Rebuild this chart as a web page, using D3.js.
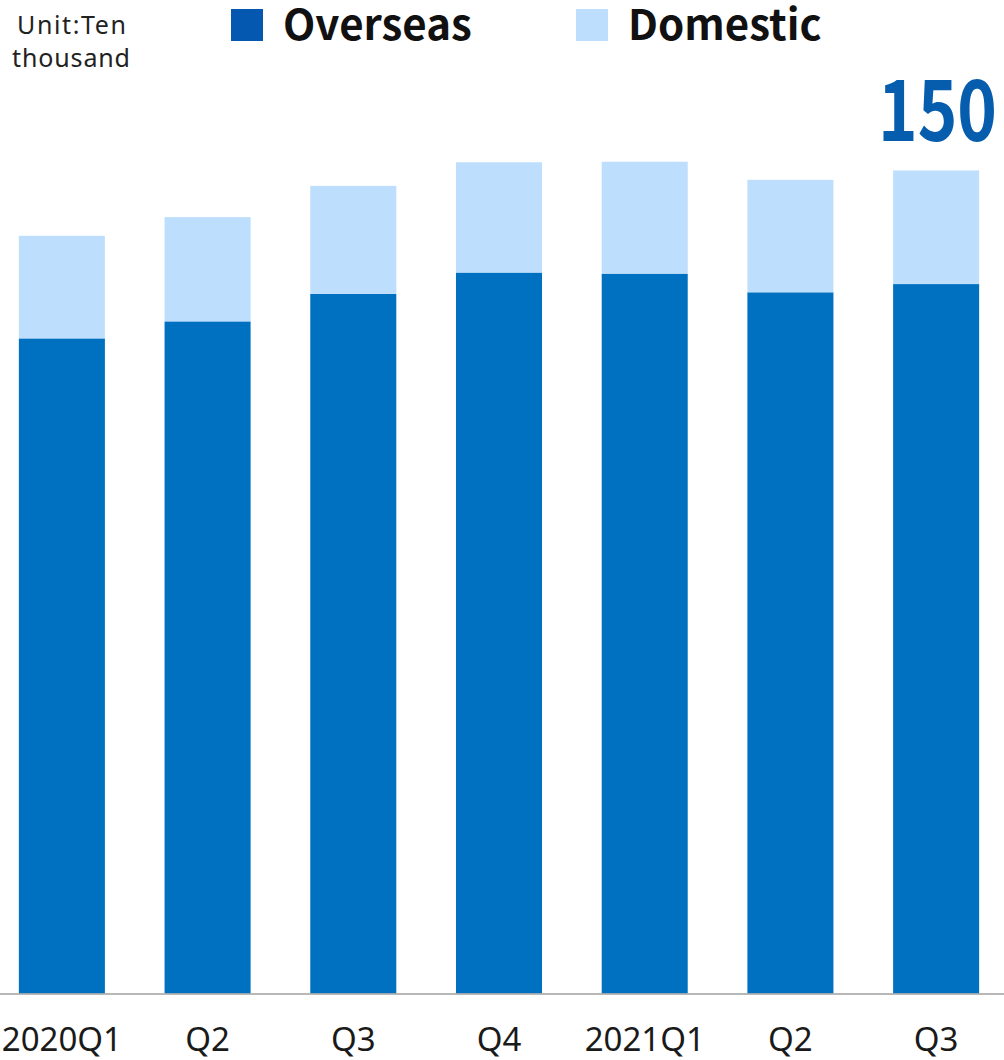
<!DOCTYPE html>
<html><head><meta charset="utf-8">
<script src="https://cdn.jsdelivr.net/npm/d3@7"></script>
<style>html,body{margin:0;padding:0;background:#fff;} svg{display:block}</style>
</head><body>
<script>
// Unit sales by quarter (ten thousand units)
const quarters = ["2020Q1", "Q2", "Q3", "Q4", "2021Q1", "Q2", "Q3"];
const overseas = [119.4, 122.5, 127.5, 131.4, 131.2, 127.8, 129.3];
const domestic = [18.7, 19.0, 19.7, 20.1, 20.4, 20.5, 20.7];
const seriesNames = ["Overseas", "Domestic"];
const unitLines = ["Unit:Ten", "thousand"];
const highlightIndex = 6;

const W = 1004, H = 1060;
const colors = { Overseas: "#0070c0", Domestic: "#bddefd" };
const legendColors = { Overseas: "#0558b0", Domestic: "#bddefd" };
const cjk = "'Noto Sans CJK JP', 'Noto Sans', sans-serif";
const sans = "'Noto Sans', sans-serif";

const svg = d3.select("body").append("svg").attr("width", W).attr("height", H);

const rows = quarters.map((q, i) => ({ i, q, Overseas: overseas[i], Domestic: domestic[i] }));
const stacked = d3.stack().keys(seriesNames)(rows);

const x = d3.scaleBand().domain(d3.range(quarters.length))
  .range([-3, 1001]).paddingInner(0.4096).paddingOuter(0.15);
const y = d3.scaleLinear().domain([0, 150]).range([993.5, 170.5]);

// stacked bars
svg.append("g").selectAll("g").data(stacked).join("g")
  .attr("fill", d => colors[d.key])
  .selectAll("rect").data(d => d).join("rect")
  .attr("x", d => x(d.data.i))
  .attr("width", x.bandwidth())
  .attr("y", d => y(d[1]))
  .attr("height", d => y(d[0]) - y(d[1]));

// baseline
svg.append("line").attr("x1", 0).attr("x2", W)
  .attr("y1", y(0) + 0.5).attr("y2", y(0) + 0.5)
  .attr("stroke", "#a0a0a0").attr("stroke-width", 1.6);

// category labels
const xAxis = d3.axisBottom(x).tickSize(0).tickPadding(0).tickFormat(i => quarters[i]);
const gx = svg.append("g").attr("transform", `translate(0,${y(0)})`).call(xAxis);
gx.select(".domain").remove();
gx.selectAll("text").attr("dy", null).attr("y", 57.5)
  .attr("font-family", sans).attr("font-size", 33).attr("fill", "#1a1a1a");

// total label on the latest quarter, drawn in a condensed face
const total = overseas[highlightIndex] + domestic[highlightIndex];
const totalG = svg.append("g");
const totalText = totalG.append("text")
  .attr("font-family", cjk).attr("font-weight", 700).attr("font-size", 84).attr("fill", "#065cad")
  .text(d3.format(".0f")(total));
const sx = 119 / totalText.node().getComputedTextLength();
totalG.attr("transform", `translate(878,140.5) scale(${sx},1)`);

// unit note
const unitPos = [{ x: 17, y: 34, w: 109 }, { x: 12, y: 66.5, w: 118 }];
svg.append("text").attr("font-family", sans).attr("font-size", 25).attr("fill", "#222")
  .selectAll("tspan").data(unitLines).join("tspan")
  .attr("x", (d, i) => unitPos[i].x)
  .attr("y", (d, i) => unitPos[i].y)
  .attr("textLength", (d, i) => unitPos[i].w)
  .attr("lengthAdjust", "spacing")
  .text(d => d);

// legend
const legendX = { Overseas: 231, Domestic: 576 };
const lg = svg.append("g").selectAll("g").data(seriesNames).join("g")
  .attr("transform", d => `translate(${legendX[d]},9)`);
lg.append("rect").attr("width", 32).attr("height", 32).attr("fill", d => legendColors[d]);
lg.append("text").attr("x", 52).attr("y", 30.5)
  .attr("font-family", cjk).attr("font-weight", 700).attr("font-size", 42).attr("fill", "#111")
  .text(d => d);
</script>
</body></html>
